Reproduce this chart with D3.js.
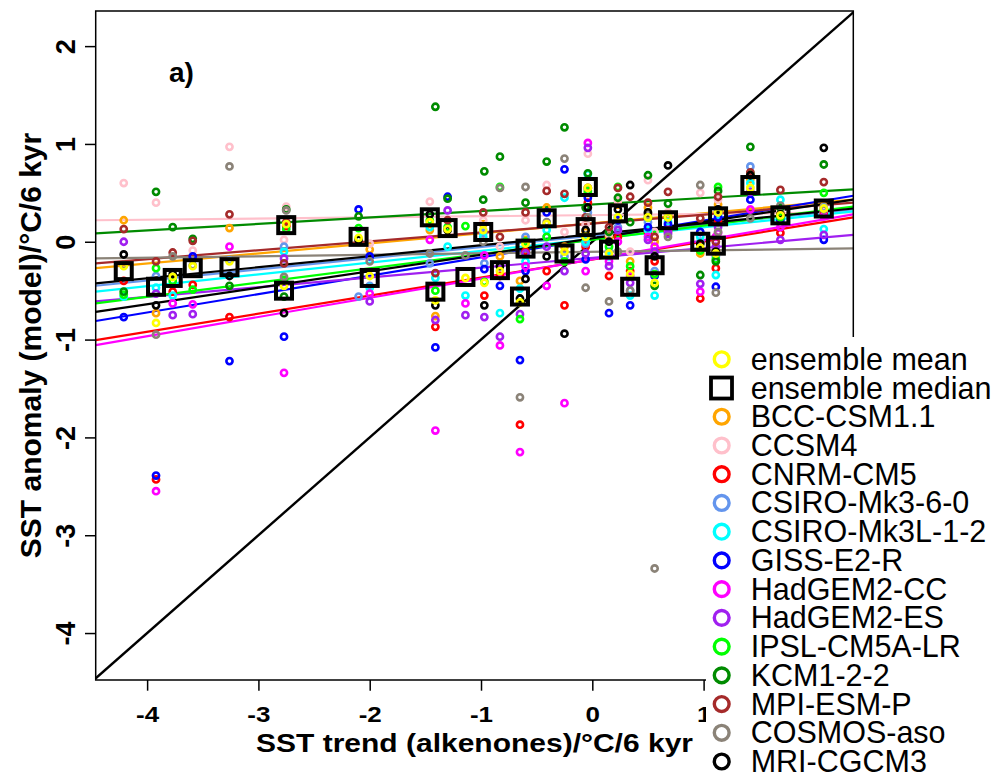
<!DOCTYPE html>
<html>
<head>
<meta charset="utf-8">
<script src="https://cdn.jsdelivr.net/npm/d3@7"></script>
<style>
  body { margin: 0; background: #fff; }
  svg { display: block; font-family: "Liberation Sans", Arial, sans-serif; }
</style>
</head>
<body>
<div id="chart"></div>
<script>
// site positions (alkenone SST trend, °C/6 kyr)
const siteX = [-4.21, -3.92, -3.77, -3.59, -3.26, -2.75, -2.77, -2.10, -2.00, -1.46, -1.41, -1.30, -1.14, -0.98, -0.97, -0.83, -0.65,
               -0.60, -0.41, -0.25, -0.04, -0.06, 0.15, 0.23, 0.34, 0.50, 0.56, 0.68, 0.97, 1.13, 1.11, 1.42, 1.69, 2.08];

// model SST anomaly at each site (null = not shown)
const bcc    = [0.22, -0.73, null, null, 0.14, 0.17, null, null, -0.08, 0.12, -0.76, null, null, 0.18, null, -0.15, -0.40,
                0.02, 0.35, -0.05, 0.50, 0.10, 0.05, 0.38, -0.20, 0.35, 0.00, 0.28, -0.12, 0.38, -0.10, 0.64, 0.30, 0.36];
const ccsm4  = [0.60, 0.40, null, -0.09, 0.97, 0.36, 0.02, null, -0.02, 0.41, null, null, null, 0.22, null, -0.05, null,
                0.22, 0.58, 0.10, 0.90, 0.18, 0.08, 0.42, -0.10, 0.63, 0.10, 0.30, 0.50, 0.43, 0.05, 0.55, 0.32, 0.30];
const cnrm   = [-0.40, -2.43, -0.51, -0.44, -0.77, 0.16, null, null, null, null, -0.87, null, null, null, -0.55, -0.35, -1.87,
                -0.10, -0.30, -0.65, 0.40, -0.05, -0.35, 0.05, -0.30, 0.10, -0.20, 0.10, -0.58, 0.20, -0.27, 0.68, 0.09, 0.28];
const csiro6 = [null, -0.35, null, null, -0.19, null, -0.05, -0.56, -0.45, -0.22, null, null, null, 0.09, -0.22, null, null,
                0.05, 0.05, -0.15, 0.30, -0.02, -0.10, 0.15, -0.50, 0.20, -0.30, 0.15, 0.00, 0.30, -0.15, 0.77, 0.26, 0.35];
const csirol = [-0.56, -0.47, -0.55, null, null, null, -0.10, null, -0.47, 0.15, -0.37, -0.05, -0.55, 0.05, null, -0.73, -0.48,
                -0.20, 0.12, 0.45, 0.69, 0.00, -0.15, 0.25, -0.55, 0.12, -0.55, 0.20, 0.05, 0.27, -0.34, 0.60, 0.43, 0.13];
const giss   = [-0.77, -2.39, null, -0.15, -1.22, null, -0.97, 0.33, -0.15, null, -1.08, 0.46, null, null, -0.28, -0.45, -1.21,
                -0.30, 0.30, 0.74, 0.45, -0.18, -0.73, 0.22, -0.65, 0.15, -0.35, 0.18, 0.10, 0.25, -0.46, 0.43, 0.22, 0.02];
const hadcc  = [null, -2.55, -0.63, -0.64, -0.05, null, -1.34, null, -0.53, 0.02, -1.93, null, -0.63, null, -0.14, -1.06, -2.15,
                -0.25, -0.45, -1.65, 1.01, -0.30, -0.20, 0.00, -0.35, 0.05, -0.05, 0.12, -0.51, 0.09, 0.05, 0.33, 0.15, 0.26];
const hades  = [0.00, -0.53, -0.75, -0.74, null, null, -0.17, null, -0.61, null, -0.80, 0.32, -0.75, null, -0.77, -0.97, -0.74,
                -0.12, -0.05, -0.30, 0.96, -0.12, -0.25, 0.12, -0.42, 0.02, -0.10, 0.08, -0.43, 0.15, -0.05, 0.51, 0.02, 0.07];
const ipsl   = [-0.54, -0.27, -0.40, -0.49, null, 0.13, -0.39, 0.14, null, 0.22, -0.50, 0.15, 0.16, null, -0.41, 0.56, -0.79,
                0.00, 0.05, -0.20, 0.52, 0.05, -0.05, 0.56, -0.25, 0.25, -0.33, 0.25, -0.09, 0.56, -0.18, 0.70, 0.25, 0.50];
const kcm    = [-0.51, 0.51, 0.15, 0.03, -0.45, 0.33, -0.56, 0.26, null, null, 1.38, 0.44, null, 0.43, 0.72, 0.87, null,
                0.40, 0.82, 1.17, 0.70, 0.35, 0.10, 0.45, 0.20, 0.68, -0.45, 0.39, -0.34, 0.52, -0.20, 0.97, 0.35, 0.79];
const mpi    = [0.13, -0.20, -0.11, 0.01, 0.28, 0.20, -0.22, null, null, null, -0.32, 0.22, null, 0.30, null, 0.05, null,
                0.30, 0.52, 0.49, 0.55, 0.25, 0.15, 0.55, 0.46, 0.40, 0.05, 0.51, 0.24, 0.46, 0.00, 0.71, 0.53, 0.61];
const cosmos = [-0.24, -0.95, -0.15, -0.24, 0.77, 0.32, -0.36, null, -0.20, -0.12, null, null, -0.14, 0.00, null, 0.55, -1.59,
                0.56, 0.20, 0.85, 0.25, -0.47, -0.61, -0.10, -0.50, 0.28, -3.34, 0.05, 0.58, 0.10, -0.52, 0.24, 0.37, 0.33];
const mri    = [-0.13, -0.65, -0.33, null, -0.35, null, -0.73, 0.02, null, 0.28, -0.65, 0.12, null, null, -0.65, -0.25, -0.58,
                -0.38, -0.15, -0.94, 0.35, 0.12, 0.00, 0.33, 0.58, 0.30, -0.15, 0.78, -0.02, 0.33, -0.10, 0.68, 0.28, 0.96];
const ensMean   = [-0.25, -0.83, -0.36, -0.25, -0.20, 0.18, -0.45, 0.04, -0.35, 0.20, -0.60, 0.13, -0.37, 0.12, -0.42, -0.30, -0.62,
                   -0.02, 0.18, -0.10, 0.55, 0.05, -0.12, 0.25, -0.33, 0.25, -0.42, 0.25, -0.06, 0.30, -0.12, 0.55, 0.27, 0.34];
const ensMedian = [-0.30, -0.46, -0.37, -0.27, -0.26, 0.17, -0.50, 0.05, -0.37, 0.25, -0.51, 0.14, -0.36, 0.10, null, -0.29, -0.56,
                   -0.07, 0.24, -0.12, 0.56, 0.15, -0.08, 0.29, -0.46, null, -0.24, 0.22, 0.00, 0.26, -0.04, 0.58, 0.27, 0.34];

const modelNames  = ["BCC-CSM1.1", "CCSM4", "CNRM-CM5", "CSIRO-Mk3-6-0", "CSIRO-Mk3L-1-2", "GISS-E2-R", "HadGEM2-CC",
                     "HadGEM2-ES", "IPSL-CM5A-LR", "KCM1-2-2", "MPI-ESM-P", "COSMOS-aso", "MRI-CGCM3"];
const modelColors = ["#ffa500", "#ffc0cb", "#ff0000", "#6495ed", "#00ffff", "#0000ff", "#ff00ff",
                     "#a020f0", "#00ff00", "#008b00", "#a52a2a", "#8b8378", "#000000"];
const modelValues = [bcc, ccsm4, cnrm, csiro6, csirol, giss, hadcc, hades, ipsl, kcm, mpi, cosmos, mri];

// regression lines read at left (x=-4.46) and right (x=2.35) plot edge
const fitLeft  = [-0.27, 0.22, -1.005, -0.45, -0.51, -0.81, -1.056, -0.61, -0.63, 0.086, -0.22, -0.17, -0.716];
const fitRight = [0.43, 0.30, 0.25, 0.33, 0.31, 0.47, 0.28, 0.07, 0.36, 0.536, 0.40, -0.068, 0.43];
const medianFit = [-0.425, 0.34];

const xTicks = [-4, -3, -2, -1, 0, 1];
const yTicks = [-4, -3, -2, -1, 0, 1, 2];

const W = 991, H = 777;
const plot = { left: 95.7, right: 853.3, top: 11, bottom: 680 };

const svg = d3.select("#chart").append("svg")
              .attr("width", W).attr("height", H);
svg.append("rect").attr("width", W).attr("height", H).attr("fill", "#fff");

const x = d3.scaleLinear().domain([-4.462, 2.345]).range([plot.left, plot.right]);
const y = d3.scaleLinear().domain([-4.48, 2.359]).range([plot.bottom, plot.top]);

svg.append("clipPath").attr("id", "clip")
   .append("rect")
   .attr("x", plot.left).attr("y", plot.top)
   .attr("width", plot.right - plot.left).attr("height", plot.bottom - plot.top);

const inner = svg.append("g").attr("clip-path", "url(#clip)");

// 1:1 line
inner.append("line")
     .attr("x1", x(-4.462)).attr("y1", y(-4.462))
     .attr("x2", x(2.4)).attr("y2", y(2.4))
     .attr("stroke", "#000").attr("stroke-width", 2.4);

// fit lines
const xl = x.domain()[0], xr = x.domain()[1];
modelValues.forEach((v, k) => {
    inner.append("line")
         .attr("x1", x(xl)).attr("y1", y(fitLeft[k]))
         .attr("x2", x(xr)).attr("y2", y(fitRight[k]))
         .attr("stroke", modelColors[k]).attr("stroke-width", 2.2);
});
inner.append("line")
     .attr("x1", x(xl)).attr("y1", y(medianFit[0]))
     .attr("x2", x(xr)).attr("y2", y(medianFit[1]))
     .attr("stroke", "#000").attr("stroke-width", 2.2);

// model points
modelValues.forEach((vals, k) => {
    const pts = vals.map((v, i) => ({ x: siteX[i], v })).filter(d => d.v !== null);
    inner.selectAll(null).data(pts).enter().append("circle")
         .attr("cx", d => x(d.x)).attr("cy", d => y(d.v))
         .attr("r", 3.1).attr("fill", "none")
         .attr("stroke", modelColors[k]).attr("stroke-width", 2.6);
});

// ensemble mean
inner.selectAll(null)
     .data(ensMean.map((v, i) => ({ x: siteX[i], v })).filter(d => d.v !== null))
     .enter().append("circle")
     .attr("cx", d => x(d.x)).attr("cy", d => y(d.v))
     .attr("r", 3.1).attr("fill", "none")
     .attr("stroke", "#ffff00").attr("stroke-width", 2.6);

// ensemble median
inner.selectAll(null)
     .data(ensMedian.map((v, i) => ({ x: siteX[i], v })).filter(d => d.v !== null))
     .enter().append("rect")
     .attr("x", d => x(d.x) - 8).attr("y", d => y(d.v) - 8)
     .attr("width", 16).attr("height", 16)
     .attr("fill", "none").attr("stroke", "#000").attr("stroke-width", 4);

// plot box
svg.append("rect")
   .attr("x", plot.left).attr("y", plot.top)
   .attr("width", plot.right - plot.left).attr("height", plot.bottom - plot.top)
   .attr("fill", "none").attr("stroke", "#000").attr("stroke-width", 1.5);

// axes
const xAxis = svg.append("g")
                 .attr("transform", `translate(0,${plot.bottom})`)
                 .call(d3.axisBottom(x).tickValues(xTicks).tickSize(10.7).tickSizeOuter(0));
xAxis.select(".domain").remove();
xAxis.selectAll(".tick line").attr("stroke-width", 1.5);
xAxis.selectAll(".tick text")
     .attr("y", null).attr("dy", null)
     .attr("transform", "translate(0,41.5) scale(1,0.88)")
     .attr("fill", "#000")
     .style("font-family", "'Liberation Sans', Arial, sans-serif")
     .style("font-size", "26px").style("font-weight", "bold")
     .text(d => d < 0 ? "-" + Math.abs(d) : d);

const yAxis = svg.append("g")
                 .attr("transform", `translate(${plot.left},0)`)
                 .call(d3.axisLeft(y).tickValues(yTicks).tickSize(10.7).tickSizeOuter(0));
yAxis.select(".domain").remove();
yAxis.selectAll(".tick line").attr("stroke-width", 1.5);
yAxis.selectAll(".tick text")
     .attr("x", null).attr("dy", null)
     .attr("text-anchor", "middle")
     .attr("transform", "translate(-20.7,0) rotate(-90)")
     .attr("fill", "#000")
     .style("font-family", "'Liberation Sans', Arial, sans-serif")
     .style("font-size", "27px").style("font-weight", "bold")
     .text(d => d < 0 ? "-" + Math.abs(d) : d);

// axis titles
svg.append("text")
   .attr("transform", `translate(${(plot.left + plot.right) / 2},752) scale(1,0.86)`)
   .attr("text-anchor", "middle")
   .style("font-size", "30px").style("font-weight", "bold")
   .text("SST trend (alkenones)/°C/6 kyr");

svg.append("text")
   .attr("transform", `translate(41,${(plot.top + plot.bottom) / 2}) rotate(-90)`)
   .attr("text-anchor", "middle")
   .style("font-size", "30px").style("font-weight", "bold")
   .text("SST anomaly (model)/°C/6 kyr");

svg.append("text")
   .attr("x", 169).attr("y", 82)
   .style("font-size", "28px").style("font-weight", "bold")
   .text("a)");

// legend
const legend = svg.append("g");
legend.append("rect")
      .attr("x", 706).attr("y", 337)
      .attr("width", W - 706).attr("height", H - 337)
      .attr("fill", "#fff");

const legendItems = [{ name: "ensemble mean", color: "#ffff00", shape: "circle" },
                     { name: "ensemble median", color: "#000", shape: "square" }]
    .concat(modelNames.map((n, k) => ({ name: n, color: modelColors[k], shape: "circle" })));

const rowY = i => 359.3 + 28.73 * i;
legendItems.forEach((d, i) => {
    if (d.shape === "circle") {
        legend.append("circle")
              .attr("cx", 721.7).attr("cy", rowY(i)).attr("r", 7.4)
              .attr("fill", "none").attr("stroke", d.color).attr("stroke-width", 3.4);
    } else {
        legend.append("rect")
              .attr("x", 711).attr("y", rowY(i) - 10.5).attr("width", 21).attr("height", 21)
              .attr("fill", "none").attr("stroke", d.color).attr("stroke-width", 3.8);
    }
    legend.append("text")
          .attr("x", 750.7).attr("y", rowY(i) + 10.5)
          .style("font-size", "30.5px")
          .text(d.name);
});
</script>
</body>
</html>
